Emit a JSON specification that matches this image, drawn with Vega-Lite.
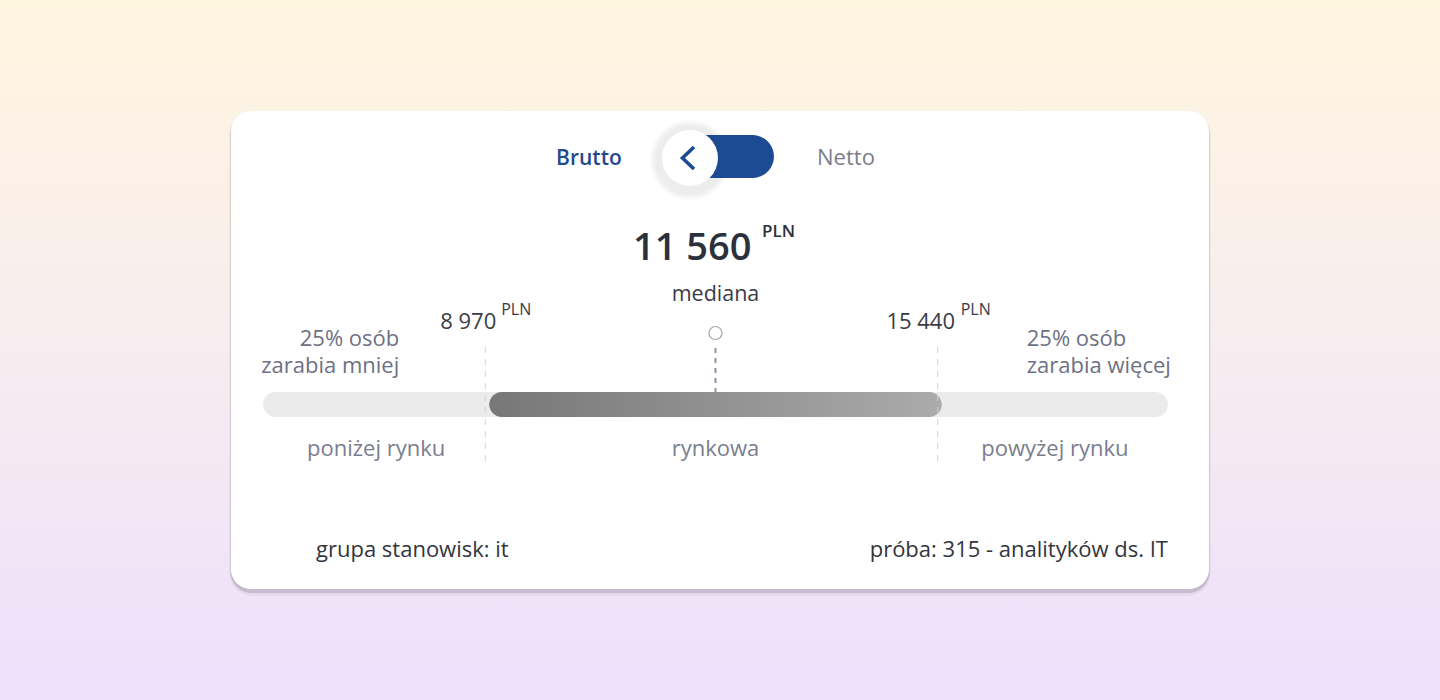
{
  "$schema": "https://vega.github.io/schema/vega-lite/v6.json",
  "width": 1440,
  "height": 700,
  "padding": 0,
  "autosize": {"type": "fit", "contains": "padding"},
  "config": {"view": {"stroke": null}, "text": {"font": "Open Sans"}},
  "datasets": {
    "percentiles": [
      {"pct": 25, "value": 8970, "label": "8 970", "unit": "PLN"},
      {"pct": 50, "value": 11560, "label": "11 560", "unit": "PLN", "caption": "mediana"},
      {"pct": 75, "value": 15440, "label": "15 440", "unit": "PLN"}
    ],
    "segments": [
      {"segment": "poniżej rynku", "from": 0, "to": 25, "mid": 12.5, "note": "25% osób\nzarabia mniej"},
      {"segment": "rynkowa", "from": 25, "to": 75, "mid": 50, "note": ""},
      {"segment": "powyżej rynku", "from": 75, "to": 100, "mid": 87.5, "note": "25% osób\nzarabia więcej"}
    ],
    "toggle": [
      {"option": "Brutto", "active": true},
      {"option": "Netto", "active": false}
    ],
    "footer": [
      {"key": "group", "text": "grupa stanowisk: it"},
      {"key": "sample", "text": "próba: 315 - analityków ds. IT"}
    ],
    "blank": [{}],
    "glow": [{"ring": 1}, {"ring": 2}, {"ring": 3}]
  },
  "layer": [
    {
      "data": {"name": "blank"},
      "mark": {"type": "rect", "fill": {"gradient": "linear", "x1": 0, "y1": 0, "x2": 0, "y2": 1, "stops": [{"offset": 0, "color": "#fff6e0"}, {"offset": 0.5, "color": "#f7ecef"}, {"offset": 1, "color": "#eedffc"}]}},
      "encoding": {
        "x": {"datum": -29.06, "type": "quantitative", "scale": {"domain": [-29.06, 130.06], "nice": false, "zero": false}, "axis": null},
        "x2": {"datum": 130.06},
        "y": {"datum": 0, "type": "quantitative", "scale": {"domain": [700, 0], "nice": false, "zero": false}, "axis": null},
        "y2": {"datum": 700}
      }
    },
    {
      "data": {"name": "blank"},
      "mark": {"type": "rect", "fill": "#000000", "opacity": 0.04, "cornerRadius": 23},
      "encoding": {
        "x": {"datum": -3.75, "type": "quantitative", "scale": {"domain": [-29.06, 130.06], "nice": false, "zero": false}, "axis": null},
        "x2": {"datum": 104.75},
        "y": {"datum": 112, "type": "quantitative", "scale": {"domain": [700, 0], "nice": false, "zero": false}, "axis": null},
        "y2": {"datum": 596}
      }
    },
    {
      "data": {"name": "blank"},
      "mark": {"type": "rect", "fill": "#000000", "opacity": 0.14, "cornerRadius": 21},
      "encoding": {
        "x": {"datum": -3.6, "type": "quantitative", "scale": {"domain": [-29.06, 130.06], "nice": false, "zero": false}, "axis": null},
        "x2": {"datum": 104.6},
        "y": {"datum": 112, "type": "quantitative", "scale": {"domain": [700, 0], "nice": false, "zero": false}, "axis": null},
        "y2": {"datum": 593}
      }
    },
    {
      "data": {"name": "blank"},
      "mark": {"type": "rect", "fill": "#ffffff", "cornerRadius": 20},
      "encoding": {
        "x": {"datum": -3.536, "type": "quantitative", "scale": {"domain": [-29.06, 130.06], "nice": false, "zero": false}, "axis": null},
        "x2": {"datum": 104.53},
        "y": {"datum": 111, "type": "quantitative", "scale": {"domain": [700, 0], "nice": false, "zero": false}, "axis": null},
        "y2": {"datum": 589}
      }
    },
    {
      "data": {"name": "glow"},
      "mark": {"type": "point", "filled": true, "fill": "#000000", "opacity": 0.022, "shape": "circle", "strokeWidth": 0},
      "encoding": {
        "x": {"datum": 47.18, "type": "quantitative", "scale": {"domain": [-29.06, 130.06], "nice": false, "zero": false}, "axis": null},
        "y": {"datum": 160, "type": "quantitative", "scale": {"domain": [700, 0], "nice": false, "zero": false}, "axis": null},
        "size": {"field": "ring", "type": "ordinal", "scale": {"domain": [1, 2, 3], "range": [6400, 5000, 3900]}, "legend": null}
      }
    },
    {
      "data": {"name": "blank"},
      "mark": {"type": "rect", "fill": "#1c4b94", "cornerRadius": 21.5},
      "encoding": {
        "x": {"datum": 46.3, "type": "quantitative", "scale": {"domain": [-29.06, 130.06], "nice": false, "zero": false}, "axis": null},
        "x2": {"datum": 56.46},
        "y": {"datum": 135, "type": "quantitative", "scale": {"domain": [700, 0], "nice": false, "zero": false}, "axis": null},
        "y2": {"datum": 178}
      }
    },
    {
      "data": {"name": "blank"},
      "mark": {"type": "point", "filled": true, "fill": "#ffffff", "opacity": 1, "size": 3136, "shape": "circle", "strokeWidth": 0},
      "encoding": {
        "x": {"datum": 47.18, "type": "quantitative", "scale": {"domain": [-29.06, 130.06], "nice": false, "zero": false}, "axis": null},
        "y": {"datum": 158, "type": "quantitative", "scale": {"domain": [700, 0], "nice": false, "zero": false}, "axis": null}
      }
    },
    {
      "data": {"name": "blank"},
      "mark": {"type": "point", "filled": false, "stroke": "#1c4b94", "opacity": 1, "size": 484, "shape": "M 0.55 -1 L -0.5 0 L 0.55 1", "strokeWidth": 3.6, "strokeJoin": "miter"},
      "encoding": {
        "x": {"datum": 46.96, "type": "quantitative", "scale": {"domain": [-29.06, 130.06], "nice": false, "zero": false}, "axis": null},
        "y": {"datum": 158, "type": "quantitative", "scale": {"domain": [700, 0], "nice": false, "zero": false}, "axis": null}
      }
    },
    {
      "data": {"name": "toggle"},
      "transform": [{"filter": "datum.active"}],
      "mark": {"type": "text", "fontSize": 21, "fontWeight": 600, "color": "#1f4a8f", "align": "center", "baseline": "alphabetic"},
      "encoding": {
        "x": {"datum": 36.02, "type": "quantitative", "scale": {"domain": [-29.06, 130.06], "nice": false, "zero": false}, "axis": null},
        "y": {"datum": 165, "type": "quantitative", "scale": {"domain": [700, 0], "nice": false, "zero": false}, "axis": null},
        "text": {"field": "option"}
      }
    },
    {
      "data": {"name": "toggle"},
      "transform": [{"filter": "!datum.active"}],
      "mark": {"type": "text", "fontSize": 22, "fontWeight": 400, "color": "#7b7d8c", "align": "center", "baseline": "alphabetic"},
      "encoding": {
        "x": {"datum": 64.42, "type": "quantitative", "scale": {"domain": [-29.06, 130.06], "nice": false, "zero": false}, "axis": null},
        "y": {"datum": 165, "type": "quantitative", "scale": {"domain": [700, 0], "nice": false, "zero": false}, "axis": null},
        "text": {"field": "option"}
      }
    },
    {
      "data": {"name": "blank"},
      "mark": {"type": "rect", "fill": "#ebebeb", "cornerRadius": 12.5},
      "encoding": {
        "x": {"datum": 0, "type": "quantitative", "scale": {"domain": [-29.06, 130.06], "nice": false, "zero": false}, "axis": null},
        "x2": {"datum": 100},
        "y": {"datum": 392, "type": "quantitative", "scale": {"domain": [700, 0], "nice": false, "zero": false}, "axis": null},
        "y2": {"datum": 417}
      }
    },
    {
      "data": {"name": "segments"},
      "transform": [{"filter": "datum.segment === 'rynkowa'"}],
      "mark": {"type": "rect", "cornerRadius": 12.5, "fill": {"gradient": "linear", "x1": 0, "y1": 0, "x2": 1, "y2": 0, "stops": [{"offset": 0, "color": "#777777"}, {"offset": 1, "color": "#ababab"}]}},
      "encoding": {
        "x": {"field": "from", "type": "quantitative", "scale": {"domain": [-29.06, 130.06], "nice": false, "zero": false}, "axis": null},
        "x2": {"field": "to"},
        "y": {"datum": 392, "type": "quantitative", "scale": {"domain": [700, 0], "nice": false, "zero": false}, "axis": null},
        "y2": {"datum": 417}
      }
    },
    {
      "data": {"name": "percentiles"},
      "transform": [{"filter": "datum.pct !== 50"}],
      "mark": {"type": "rule", "stroke": "#d3d3d3", "strokeWidth": 1, "strokeDash": [6, 6], "xOffset": -4},
      "encoding": {
        "x": {"field": "pct", "type": "quantitative", "scale": {"domain": [-29.06, 130.06], "nice": false, "zero": false}, "axis": null},
        "y": {"datum": 347, "type": "quantitative", "scale": {"domain": [700, 0], "nice": false, "zero": false}, "axis": null},
        "y2": {"datum": 466}
      }
    },
    {
      "data": {"name": "percentiles"},
      "transform": [{"filter": "datum.pct === 50"}],
      "mark": {"type": "rule", "stroke": "#8d92a6", "strokeWidth": 2, "strokeDash": [5, 5]},
      "encoding": {
        "x": {"field": "pct", "type": "quantitative", "scale": {"domain": [-29.06, 130.06], "nice": false, "zero": false}, "axis": null},
        "y": {"datum": 348, "type": "quantitative", "scale": {"domain": [700, 0], "nice": false, "zero": false}, "axis": null},
        "y2": {"datum": 392}
      }
    },
    {
      "data": {"name": "percentiles"},
      "transform": [{"filter": "datum.pct === 50"}],
      "mark": {"type": "point", "shape": "circle", "filled": true, "fill": "#ffffff", "stroke": "#7c7f8f", "strokeWidth": 1.2, "size": 170},
      "encoding": {
        "x": {"field": "pct", "type": "quantitative", "scale": {"domain": [-29.06, 130.06], "nice": false, "zero": false}, "axis": null},
        "y": {"datum": 333, "type": "quantitative", "scale": {"domain": [700, 0], "nice": false, "zero": false}, "axis": null}
      }
    },
    {
      "data": {"name": "percentiles"},
      "transform": [{"filter": "datum.pct === 50"}],
      "mark": {"type": "text", "fontSize": 38, "fontWeight": 600, "color": "#2b303b", "align": "right", "baseline": "alphabetic", "dx": 36},
      "encoding": {
        "x": {"field": "pct", "type": "quantitative", "scale": {"domain": [-29.06, 130.06], "nice": false, "zero": false}, "axis": null},
        "y": {"datum": 260, "type": "quantitative", "scale": {"domain": [700, 0], "nice": false, "zero": false}, "axis": null},
        "text": {"field": "label"}
      }
    },
    {
      "data": {"name": "percentiles"},
      "transform": [{"filter": "datum.pct === 50"}],
      "mark": {"type": "text", "fontSize": 17, "fontWeight": 600, "color": "#2b303b", "align": "left", "baseline": "alphabetic", "dx": 46.5},
      "encoding": {
        "x": {"field": "pct", "type": "quantitative", "scale": {"domain": [-29.06, 130.06], "nice": false, "zero": false}, "axis": null},
        "y": {"datum": 237, "type": "quantitative", "scale": {"domain": [700, 0], "nice": false, "zero": false}, "axis": null},
        "text": {"field": "unit"}
      }
    },
    {
      "data": {"name": "percentiles"},
      "transform": [{"filter": "datum.pct === 50"}],
      "mark": {"type": "text", "fontSize": 21.5, "fontWeight": 400, "color": "#3a3c45", "align": "center", "baseline": "alphabetic"},
      "encoding": {
        "x": {"field": "pct", "type": "quantitative", "scale": {"domain": [-29.06, 130.06], "nice": false, "zero": false}, "axis": null},
        "y": {"datum": 301, "type": "quantitative", "scale": {"domain": [700, 0], "nice": false, "zero": false}, "axis": null},
        "text": {"field": "caption"}
      }
    },
    {
      "data": {"name": "percentiles"},
      "transform": [{"filter": "datum.pct !== 50"}],
      "mark": {"type": "text", "fontSize": 22, "fontWeight": 400, "color": "#3a3c45", "align": "center", "baseline": "alphabetic", "dx": -21},
      "encoding": {
        "x": {"field": "pct", "type": "quantitative", "scale": {"domain": [-29.06, 130.06], "nice": false, "zero": false}, "axis": null},
        "y": {"datum": 329, "type": "quantitative", "scale": {"domain": [700, 0], "nice": false, "zero": false}, "axis": null},
        "text": {"field": "label"}
      }
    },
    {
      "data": {"name": "percentiles"},
      "transform": [{"filter": "datum.pct === 25"}],
      "mark": {"type": "text", "fontSize": 16, "fontWeight": 400, "color": "#3a3c45", "align": "left", "baseline": "alphabetic", "dx": 12},
      "encoding": {
        "x": {"field": "pct", "type": "quantitative", "scale": {"domain": [-29.06, 130.06], "nice": false, "zero": false}, "axis": null},
        "y": {"datum": 315, "type": "quantitative", "scale": {"domain": [700, 0], "nice": false, "zero": false}, "axis": null},
        "text": {"field": "unit"}
      }
    },
    {
      "data": {"name": "percentiles"},
      "transform": [{"filter": "datum.pct === 75"}],
      "mark": {"type": "text", "fontSize": 16, "fontWeight": 400, "color": "#3a3c45", "align": "left", "baseline": "alphabetic", "dx": 19},
      "encoding": {
        "x": {"field": "pct", "type": "quantitative", "scale": {"domain": [-29.06, 130.06], "nice": false, "zero": false}, "axis": null},
        "y": {"datum": 315, "type": "quantitative", "scale": {"domain": [700, 0], "nice": false, "zero": false}, "axis": null},
        "text": {"field": "unit"}
      }
    },
    {
      "data": {"name": "segments"},
      "transform": [{"filter": "datum.segment === 'poniżej rynku'"}],
      "mark": {"type": "text", "fontSize": 22, "fontWeight": 400, "color": "#6e7184", "align": "right", "baseline": "alphabetic", "lineBreak": "\n", "lineHeight": 27, "dx": -90},
      "encoding": {
        "x": {"field": "to", "type": "quantitative", "scale": {"domain": [-29.06, 130.06], "nice": false, "zero": false}, "axis": null},
        "y": {"datum": 346, "type": "quantitative", "scale": {"domain": [700, 0], "nice": false, "zero": false}, "axis": null},
        "text": {"field": "note"}
      }
    },
    {
      "data": {"name": "segments"},
      "transform": [{"filter": "datum.segment === 'powyżej rynku'"}],
      "mark": {"type": "text", "fontSize": 22, "fontWeight": 400, "color": "#6e7184", "align": "left", "baseline": "alphabetic", "lineBreak": "\n", "lineHeight": 27, "dx": 85},
      "encoding": {
        "x": {"field": "from", "type": "quantitative", "scale": {"domain": [-29.06, 130.06], "nice": false, "zero": false}, "axis": null},
        "y": {"datum": 346, "type": "quantitative", "scale": {"domain": [700, 0], "nice": false, "zero": false}, "axis": null},
        "text": {"field": "note"}
      }
    },
    {
      "data": {"name": "segments"},
      "mark": {"type": "text", "fontSize": 22, "fontWeight": 400, "color": "#7a7d8f", "align": "center", "baseline": "alphabetic"},
      "encoding": {
        "x": {"field": "mid", "type": "quantitative", "scale": {"domain": [-29.06, 130.06], "nice": false, "zero": false}, "axis": null},
        "y": {"datum": 456, "type": "quantitative", "scale": {"domain": [700, 0], "nice": false, "zero": false}, "axis": null},
        "text": {"field": "segment"}
      }
    },
    {
      "data": {"name": "footer"},
      "transform": [{"filter": "datum.key === 'group'"}],
      "mark": {"type": "text", "fontSize": 22, "fontWeight": 400, "color": "#33353d", "align": "left", "baseline": "alphabetic"},
      "encoding": {
        "x": {"datum": 5.86, "type": "quantitative", "scale": {"domain": [-29.06, 130.06], "nice": false, "zero": false}, "axis": null},
        "y": {"datum": 557, "type": "quantitative", "scale": {"domain": [700, 0], "nice": false, "zero": false}, "axis": null},
        "text": {"field": "text"}
      }
    },
    {
      "data": {"name": "footer"},
      "transform": [{"filter": "datum.key === 'sample'"}],
      "mark": {"type": "text", "fontSize": 22, "fontWeight": 400, "color": "#33353d", "align": "right", "baseline": "alphabetic"},
      "encoding": {
        "x": {"datum": 100, "type": "quantitative", "scale": {"domain": [-29.06, 130.06], "nice": false, "zero": false}, "axis": null},
        "y": {"datum": 557, "type": "quantitative", "scale": {"domain": [700, 0], "nice": false, "zero": false}, "axis": null},
        "text": {"field": "text"}
      }
    }
  ]
}
